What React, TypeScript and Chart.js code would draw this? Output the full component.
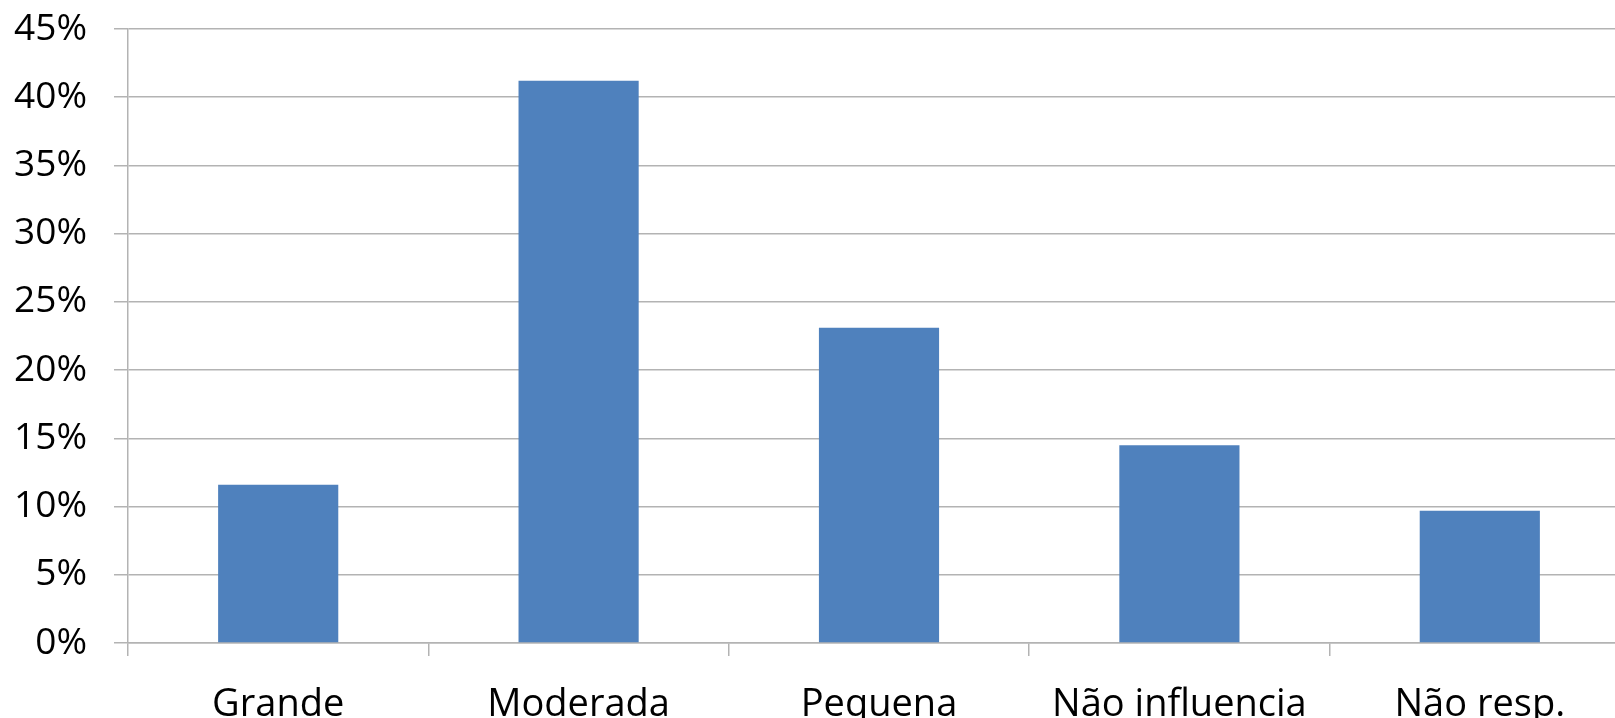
import React, { useEffect, useRef } from "react";
import { Chart, registerables } from "chart.js";

Chart.register(...registerables);

const categories = ["Grande", "Moderada", "Pequena", "Não influencia", "Não resp."];
const values = [11.6, 41.2, 23.1, 14.5, 9.7];
const yTicks = [0, 5, 10, 15, 20, 25, 30, 35, 40, 45];

const FONT = "'Open Sans', Lato, sans-serif";
const GRID = "#b3b3b3";

export default function App() {
  const ref = useRef<HTMLCanvasElement | null>(null);

  useEffect(() => {
    const canvas = ref.current;
    if (!canvas) return;
    const chart = new Chart(canvas, {
      type: "bar",
      data: {
        labels: categories,
        datasets: [
          {
            data: values,
            backgroundColor: "#4F81BD",
            borderWidth: 0,
            categoryPercentage: 1,
            barPercentage: 0.4,
          },
        ],
      },
      options: {
        responsive: false,
        animation: false,
        devicePixelRatio: 1,
        layout: { padding: { top: 29, right: 0, bottom: 0, left: 0 } },
        plugins: {
          legend: { display: false },
          tooltip: { enabled: false },
        },
        scales: {
          x: {
            offset: true,
            grid: {
              offset: true,
              drawOnChartArea: false,
              drawTicks: true,
              tickLength: 13,
              color: GRID,
              lineWidth: 1.5,
            },
            border: { display: true, color: GRID, width: 1.5 },
            ticks: {
              color: "#000",
              font: { family: FONT, size: 38 },
              padding: 26,
              maxRotation: 0,
              autoSkip: false,
            },
            afterFit: (s: any) => {
              s.height = 75;
              s.paddingLeft = 0;
              s.paddingRight = 0;
            },
          },
          y: {
            min: 0,
            max: 45,
            afterBuildTicks: (s: any) => {
              s.ticks = yTicks.map((v) => ({ value: v }));
            },
            grid: {
              color: GRID,
              lineWidth: 1.5,
              drawTicks: true,
              tickLength: 14,
            },
            border: { display: true, color: GRID, width: 1.5 },
            ticks: {
              color: "#000",
              font: { family: FONT, size: 37 },
              padding: 27,
              callback: (v: any) => `${v}%`,
            },
            afterFit: (s: any) => {
              s.width = 128;
              s.paddingTop = 0;
              s.paddingBottom = 0;
            },
          },
        },
      },
    });
    return () => chart.destroy();
  }, []);

  return (
    <div
      style={{
        position: "fixed",
        left: 0,
        top: 0,
        width: 1615,
        height: 718,
        overflow: "hidden",
        background: "#fff",
      }}
    >
      <canvas ref={ref} width={1630} height={718} style={{ display: "block" }} />
    </div>
  );
}
